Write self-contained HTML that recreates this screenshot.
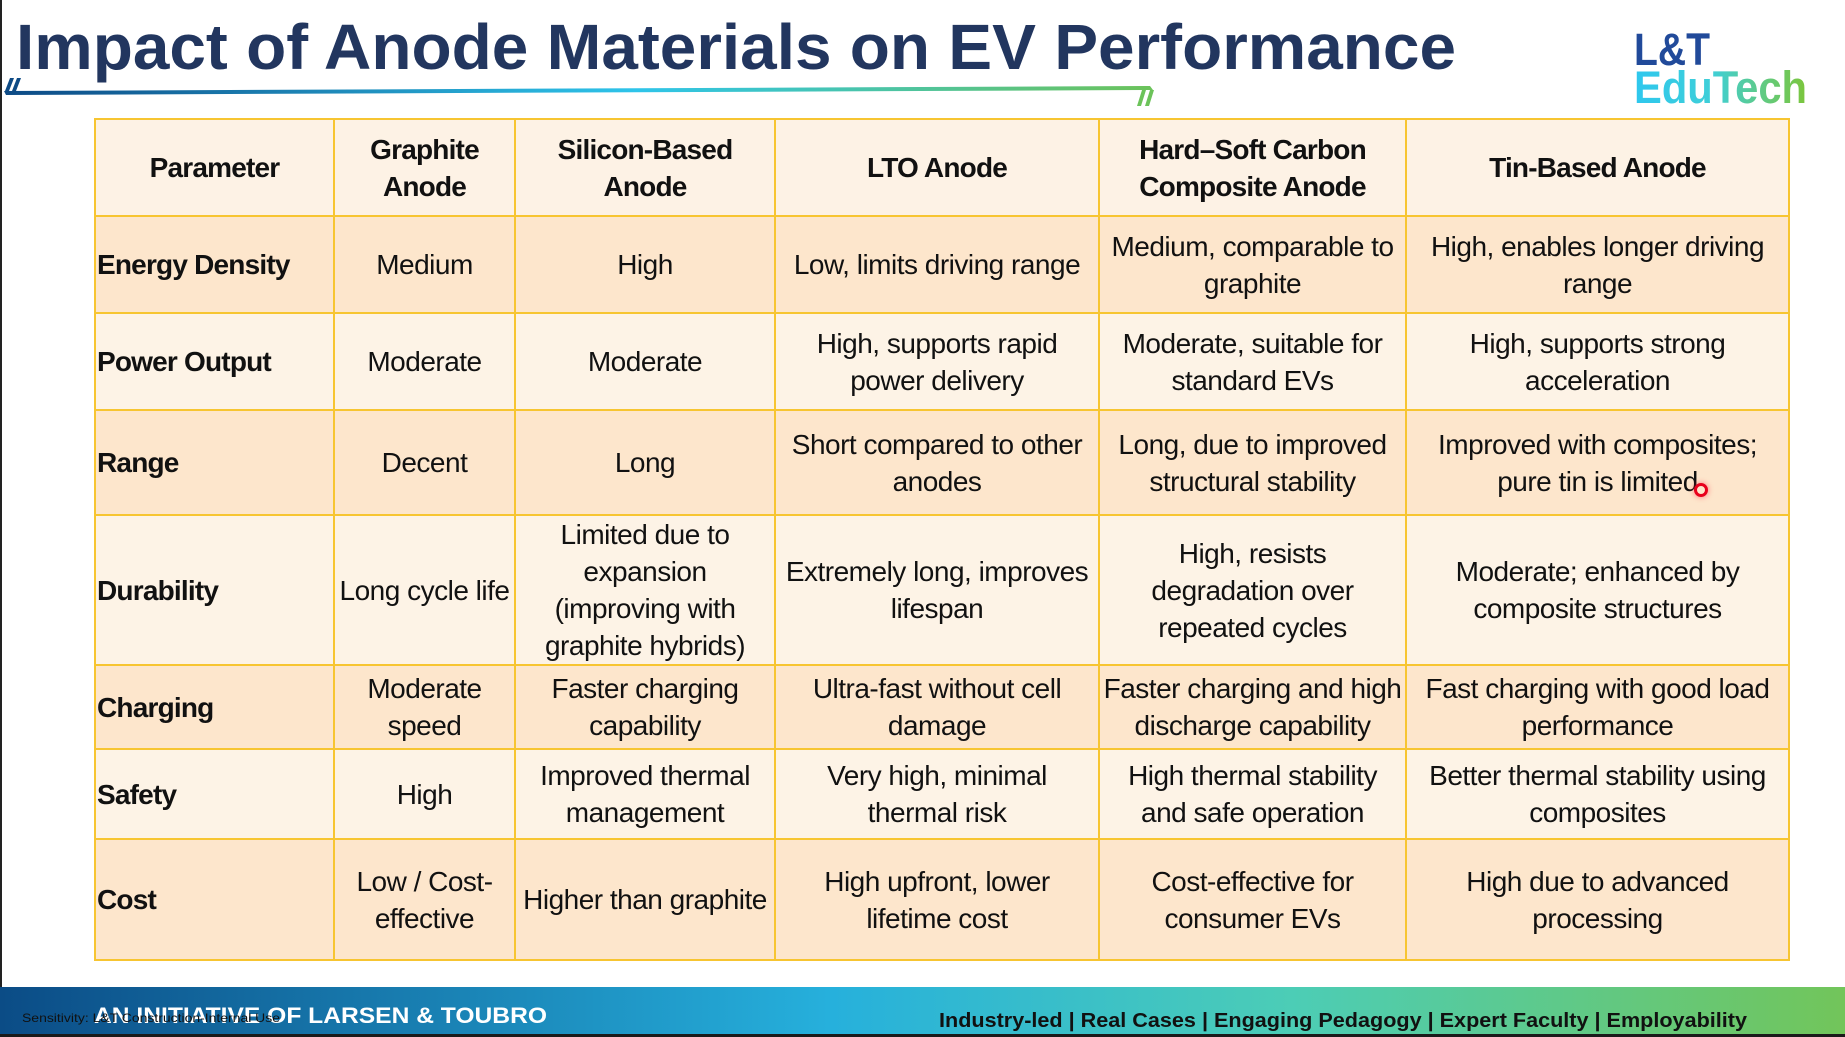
<!DOCTYPE html>
<html><head><meta charset="utf-8">
<style>
html,body{margin:0;padding:0;}
body{width:1845px;height:1037px;position:relative;background:#fff;overflow:hidden;font-family:"Liberation Sans",sans-serif;}
.lb{position:absolute;left:0;top:0;width:2px;height:1037px;background:#222;}
table{position:absolute;left:94px;top:118px;border-collapse:collapse;table-layout:fixed;}
td{border:2px solid #f7c531;text-align:center;vertical-align:middle;font-size:28px;line-height:37px;color:#111;padding:0;white-space:nowrap;letter-spacing:-0.5px;}
tr.d td{background:#fde6cc;}
tr.l td{background:#fdf3e6;}
tr.h td{background:#fdf2e5;font-weight:bold;letter-spacing:-0.8px;}
td.p{text-align:left;font-weight:bold;padding-left:1px;letter-spacing:-0.8px;}
</style></head><body>
<div class="lb"></div>
<svg width="1845" height="1037" style="position:absolute;left:0;top:0">
<defs>
<linearGradient id="ul" x1="0" x2="1"><stop offset="0" stop-color="#0d4a85"/><stop offset="0.55" stop-color="#2ec4ea"/><stop offset="1" stop-color="#6cc35a"/></linearGradient>
<linearGradient id="ft" x1="0" x2="1"><stop offset="0" stop-color="#0b4c86"/><stop offset="0.45" stop-color="#26b0dc"/><stop offset="0.7" stop-color="#4ccdb6"/><stop offset="1" stop-color="#72c55a"/></linearGradient>
<linearGradient id="lg" x1="0" x2="1"><stop offset="0" stop-color="#2ec7ee"/><stop offset="0.45" stop-color="#3fcfd8"/><stop offset="1" stop-color="#7cc63a"/></linearGradient>
</defs>
<text x="16" y="69" font-family="Liberation Sans" font-weight="bold" font-size="64" fill="#22365f" textLength="1440" lengthAdjust="spacingAndGlyphs">Impact of Anode Materials on EV Performance</text>
<polygon points="4,91 1150,86 1153,90 6,95" fill="url(#ul)"/>
<polygon points="10,78 14,78 9,91 5,91" fill="#0d4a85"/>
<polygon points="17,78 21,78 16,91 12,91" fill="#0d4a85"/>
<polygon points="1142,90 1146,90 1141,106 1137,106" fill="#6cc35a"/>
<polygon points="1150,90 1154,90 1149,106 1145,106" fill="#6cc35a"/>
<text x="1634" y="65" font-family="Liberation Sans" font-weight="bold" font-size="45" fill="#214a9a" textLength="76" lengthAdjust="spacingAndGlyphs">L&amp;T</text>
<text x="1634" y="103" font-family="Liberation Sans" font-weight="bold" font-size="45" fill="url(#lg)" textLength="173" lengthAdjust="spacingAndGlyphs">EduTech</text>
<rect x="0" y="987" width="1845" height="48" fill="url(#ft)"/>
<rect x="0" y="1034" width="1845" height="3" fill="#1a1a1a"/>
<text x="94" y="1023" font-family="Liberation Sans" font-weight="bold" font-size="22" fill="#fff" textLength="453" lengthAdjust="spacingAndGlyphs">AN INITIATIVE OF LARSEN &amp; TOUBRO</text>
<text x="22" y="1022" font-family="Liberation Sans" font-size="12" fill="#111" textLength="258" lengthAdjust="spacingAndGlyphs">Sensitivity: L&amp;T Construction-Internal Use</text>
<text x="939" y="1027" font-family="Liberation Sans" font-weight="bold" font-size="20" fill="#111" textLength="808" lengthAdjust="spacingAndGlyphs">Industry-led | Real Cases | Engaging Pedagogy | Expert Faculty | Employability</text>
</svg>
<table>
<colgroup><col style="width:239px"><col style="width:181px"><col style="width:260px"><col style="width:324px"><col style="width:307px"><col style="width:383px"></colgroup>
<tr class="h" style="height:97px"><td>Parameter</td><td>Graphite<br>Anode</td><td>Silicon-Based<br>Anode</td><td>LTO Anode</td><td>Hard–Soft Carbon<br>Composite Anode</td><td>Tin-Based Anode</td></tr>
<tr class="d" style="height:97px"><td class="p">Energy Density</td><td>Medium</td><td>High</td><td>Low, limits driving range</td><td>Medium, comparable to<br>graphite</td><td>High, enables longer driving<br>range</td></tr>
<tr class="l" style="height:97px"><td class="p">Power Output</td><td>Moderate</td><td>Moderate</td><td>High, supports rapid<br>power delivery</td><td>Moderate, suitable for<br>standard EVs</td><td>High, supports strong<br>acceleration</td></tr>
<tr class="d" style="height:105px"><td class="p">Range</td><td>Decent</td><td>Long</td><td>Short compared to other<br>anodes</td><td>Long, due to improved<br>structural stability</td><td>Improved with composites;<br>pure tin is limited</td></tr>
<tr class="l" style="height:150px"><td class="p">Durability</td><td>Long cycle life</td><td>Limited due to<br>expansion<br>(improving with<br>graphite hybrids)</td><td>Extremely long, improves<br>lifespan</td><td>High, resists<br>degradation over<br>repeated cycles</td><td>Moderate; enhanced by<br>composite structures</td></tr>
<tr class="d" style="height:84px"><td class="p">Charging</td><td>Moderate<br>speed</td><td>Faster charging<br>capability</td><td>Ultra-fast without cell<br>damage</td><td>Faster charging and high<br>discharge capability</td><td>Fast charging with good load<br>performance</td></tr>
<tr class="l" style="height:90px"><td class="p">Safety</td><td>High</td><td>Improved thermal<br>management</td><td>Very high, minimal<br>thermal risk</td><td>High thermal stability<br>and safe operation</td><td>Better thermal stability using<br>composites</td></tr>
<tr class="d" style="height:121px"><td class="p">Cost</td><td>Low / Cost-<br>effective</td><td>Higher than graphite</td><td>High upfront, lower<br>lifetime cost</td><td>Cost-effective for<br>consumer EVs</td><td>High due to advanced<br>processing</td></tr>
</table>
<div style="position:absolute;left:1694px;top:483px;width:8px;height:8px;border:3px solid #e8001c;border-radius:50%;box-shadow:0 0 6px rgba(255,0,40,0.5);"></div>
</body></html>
